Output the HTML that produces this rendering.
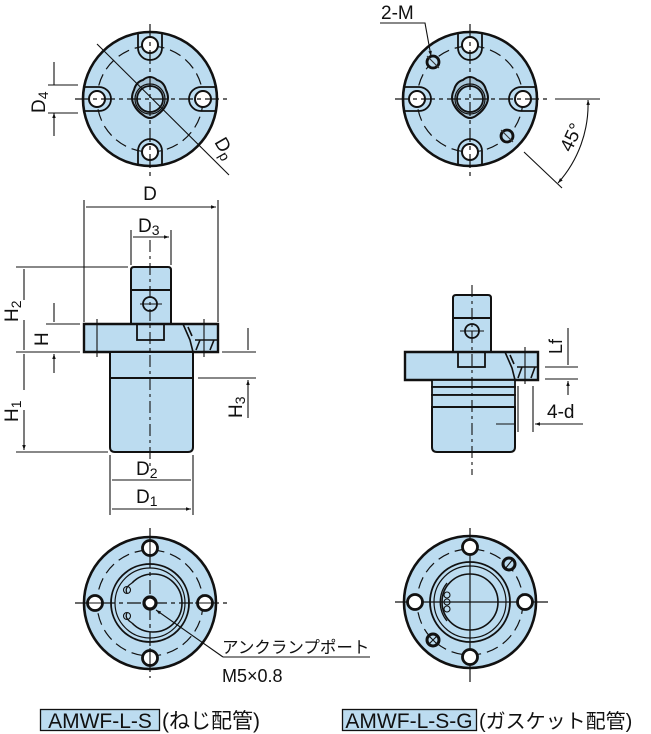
<!DOCTYPE html>
<html><head><meta charset="utf-8"><style>
html,body{margin:0;padding:0;background:#fff;width:651px;height:734px;overflow:hidden}
svg{display:block}
text{font-family:"Liberation Sans","Noto Sans CJK JP",sans-serif;fill:#111}
</style></head><body>
<svg width="651" height="734" viewBox="0 0 651 734" xmlns="http://www.w3.org/2000/svg">
<defs>
<marker id="a" viewBox="0 0 10 10" refX="10" refY="5" markerWidth="8" markerHeight="5" orient="auto-start-reverse" markerUnits="userSpaceOnUse"><path d="M0,1.5 L10,5 L0,8.5z" fill="#111"/></marker>
</defs>
<g stroke="#111" fill="none">
<!-- ===== TOP LEFT ===== -->
<circle cx="150" cy="99" r="67" fill="#bcdcf0" stroke-width="2.6"/>
<circle cx="150" cy="99" r="53" stroke-width="1.2" stroke-dasharray="12,6"/>
<g stroke-width="1.8">
<path d="M138,33 v15 a12,12 0 0 0 24,0 v-15"/>
<path d="M138,166 v-15 a12,12 0 0 1 24,0 v15"/>
<path d="M84,87 h15 a12,12 0 0 1 0,24 h-15"/>
<path d="M216,87 h-15 a12,12 0 0 0 0,24 h15"/>
</g>
<g stroke-width="2" fill="#fff"><circle cx="150" cy="45" r="8"/><circle cx="150" cy="152" r="8"/><circle cx="97" cy="99" r="8"/><circle cx="203" cy="99" r="8"/></g>
<path d="M134,90 q2,-8 9,-10 q7,-6 14,0 q7,2 9,10 q4,8 0,15 q-3,6 -9,10 q-7,6 -14,0 q-6,-4 -9,-10 q-4,-7 0,-15z" fill="#a9c6d8" stroke-width="2"/>
<circle cx="150" cy="99" r="13" stroke-width="1.8" fill="#bcdcf0"/>
<circle cx="150" cy="99" r="15" stroke-width="1.2"/>
<g stroke-width="1.2" stroke-dasharray="14,4,4,4"><path d="M150,24 V176"/><path d="M75,99 H227"/></g>
<path d="M97,44 L229,175" stroke-width="1.1"/>
<path d="M78,85 H48 M78,113 H48" stroke-width="1.1"/>
<path d="M54,62 V85 M54,136 V113" stroke-width="1.1" marker-end="url(#a)"/>
<!-- ===== TOP RIGHT ===== -->
<circle cx="470" cy="99" r="67" fill="#bcdcf0" stroke-width="2.6"/>
<circle cx="470" cy="99" r="53" stroke-width="1.2" stroke-dasharray="12,6"/>
<g stroke-width="1.8">
<path d="M458,33 v15 a12,12 0 0 0 24,0 v-15"/>
<path d="M458,166 v-15 a12,12 0 0 1 24,0 v15"/>
<path d="M404,87 h15 a12,12 0 0 1 0,24 h-15"/>
<path d="M536,87 h-15 a12,12 0 0 0 0,24 h15"/>
</g>
<g stroke-width="2" fill="#fff"><circle cx="470" cy="45" r="8"/><circle cx="470" cy="152" r="8"/><circle cx="417" cy="99" r="8"/><circle cx="523" cy="99" r="8"/></g>
<g stroke-width="2.8" fill="#bcdcf0"><circle cx="433" cy="62" r="6"/><circle cx="507" cy="136" r="6"/></g>
<g stroke-width="1.1" stroke="#333"><path d="M427,56 L439,68 M501,130 L513,142"/></g>
<path d="M454,90 q2,-8 9,-10 q7,-6 14,0 q7,2 9,10 q4,8 0,15 q-3,6 -9,10 q-7,6 -14,0 q-6,-4 -9,-10 q-4,-7 0,-15z" fill="#a9c6d8" stroke-width="2"/>
<circle cx="470" cy="99" r="13" stroke-width="1.8" fill="#bcdcf0"/>
<circle cx="470" cy="99" r="15" stroke-width="1.2"/>
<g stroke-width="1.2" stroke-dasharray="14,4,4,4"><path d="M470,24 V176"/><path d="M395,99 H550"/></g>
<path d="M555,99 H600 M524,152 L562,188" stroke-width="1.1"/>
<path d="M588,100 A118,118 0 0 1 558,183" stroke-width="1.1" marker-start="url(#a)" marker-end="url(#a)"/>
<path d="M380,23 H425 L431,56" stroke-width="1.1" marker-end="url(#a)"/>
<!-- ===== SIDE LEFT ===== -->
<path d="M131,270 q0,-3 3,-3 h34 q3,0 3,3 v20 h-40z" fill="#bcdcf0" stroke-width="2"/>
<rect x="131" y="290" width="40" height="34" fill="#bcdcf0" stroke-width="2"/>
<circle cx="150" cy="304" r="7" stroke-width="1.8"/>
<path d="M140,304 H162" stroke-width="1.1"/>
<path d="M84,324 H218 V352 H84z" fill="#bcdcf0" stroke-width="2.4"/>
<path d="M110,352 H193 V378 H110z" fill="#bcdcf0" stroke-width="2"/>
<path d="M110,378 H193 V447 q0,5 -5,5 H115 q-5,0 -5,-5z" fill="#bcdcf0" stroke-width="2"/>
<rect x="137" y="324" width="27" height="16" stroke-width="1.8"/>
<path d="M183,324 L190,340 L193,352 M195,340 H218 M200,340 L196,350 M214,340 L210,350 M188,327 L192,336" stroke-width="1.6"/>
<path d="M97,319 V357 M204,319 V357" stroke-width="1.1"/>
<path d="M150,240 V470" stroke-width="1.1" stroke-dasharray="12,4,3,4"/>
<!-- dims -->
<path d="M84,200 V322 M218,200 V322" stroke-width="1.1"/>
<path d="M150,207 H86 M150,207 H216" stroke-width="1.1" marker-end="url(#a)"/>
<path d="M131,230 V265 M171,230 V265" stroke-width="1.1"/>
<path d="M151,237 H133 M151,237 H169" stroke-width="1.1" marker-end="url(#a)"/>
<path d="M16,267 H128 M16,352 H80 M16,452 H108 M46,324 H80" stroke-width="1.1"/>
<path d="M24,300 V269 M24,320 V350 M24,390 V354 M24,410 V450" stroke-width="1.1" marker-end="url(#a)"/>
<path d="M54,303 V322 M54,373 V354" stroke-width="1.1" marker-end="url(#a)"/>
<path d="M198,378 H256 M222,352 H256" stroke-width="1.1"/>
<path d="M248,328 V350 M248,418 V380" stroke-width="1.1" marker-end="url(#a)"/>
<path d="M110,455 V515 M193,455 V515" stroke-width="1.1"/>
<path d="M150,480 H112 M150,480 H191 M150,509 H112 M150,509 H191" stroke-width="1.1" marker-end="url(#a)"/>
<!-- ===== SIDE RIGHT ===== -->
<path d="M453,298 q0,-3 3,-3 h32 q3,0 3,3 v20 h-38z" fill="#bcdcf0" stroke-width="2"/>
<rect x="453" y="318" width="38" height="34" fill="#bcdcf0" stroke-width="2"/>
<circle cx="472" cy="331" r="7" stroke-width="1.8"/>
<path d="M460,331 H484" stroke-width="1.1"/>
<path d="M405,352 H538 V380 H405z" fill="#bcdcf0" stroke-width="2.4"/>
<rect x="432" y="380" width="83" height="7" fill="#bcdcf0" stroke-width="1.8"/>
<rect x="432" y="387" width="83" height="8" fill="#bcdcf0" stroke-width="1.8"/>
<rect x="432" y="395" width="83" height="12" fill="#bcdcf0" stroke-width="1.8"/>
<path d="M432,407 H515 V447 q0,5 -5,5 H437 q-5,0 -5,-5z" fill="#bcdcf0" stroke-width="2"/>
<rect x="458" y="352" width="27" height="15" stroke-width="1.8"/>
<path d="M505,352 L512,368 L515,380 M517,367 H538 M522,367 L518,378 M535,367 L531,378 M510,355 L514,364" stroke-width="1.6"/>
<path d="M525,347 V384" stroke-width="1.1"/>
<path d="M472,285 V475" stroke-width="1.1" stroke-dasharray="12,4,3,4"/>
<path d="M545,367 H578 M545,379 H578" stroke-width="1.1"/>
<path d="M568,328 V365 M568,395 V381" stroke-width="1.1" marker-end="url(#a)"/>
<path d="M518,386 V432 M533,386 V432" stroke-width="1.1"/>
<path d="M496,424 H516 M583,424 H535" stroke-width="1.1" marker-end="url(#a)"/>
<!-- ===== BOTTOM LEFT ===== -->
<circle cx="150" cy="603" r="66" fill="#bcdcf0" stroke-width="2.6"/>
<circle cx="150" cy="603" r="53" stroke-width="1.2" stroke-dasharray="12,6"/>
<circle cx="150" cy="603" r="39" stroke-width="1.8"/>
<circle cx="150" cy="603" r="35" stroke-width="1.2"/>
<path d="M132,583 A29,29 0 1 1 132,623" stroke-width="1.6"/>
<path d="M132,583 q-8,5 -5,10 M132,623 q-8,-5 -5,-10" stroke-width="1.3"/>
<circle cx="127" cy="590" r="3.5" stroke-width="1.1"/><circle cx="127" cy="616" r="3.5" stroke-width="1.1"/>
<g stroke-width="1.2" stroke-dasharray="14,4,4,4"><path d="M150,528 V678"/><path d="M75,603 H228"/></g>
<g stroke-width="2.8" fill="#fff"><circle cx="150" cy="548" r="7.5"/><circle cx="150" cy="658" r="7.5"/><circle cx="95" cy="603" r="7.5"/><circle cx="205" cy="603" r="7.5"/></g>
<g stroke-width="1.1"><path d="M150,538 V558 M150,648 V668 M85,603 H105 M195,603 H215"/></g>
<circle cx="150" cy="603" r="6" stroke-width="3.2" fill="#fff"/>
<path d="M223,657 L156,610" stroke-width="1.1" marker-end="url(#a)"/>
<path d="M223,657 H370" stroke-width="1.1"/>
<!-- ===== BOTTOM RIGHT ===== -->
<circle cx="470" cy="602" r="66" fill="#bcdcf0" stroke-width="2.6"/>
<circle cx="470" cy="602" r="53" stroke-width="1.2" stroke-dasharray="12,6"/>
<circle cx="470" cy="602" r="40" stroke-width="1.8"/>
<circle cx="470" cy="602" r="36" stroke-width="1.2"/>
<circle cx="470" cy="602" r="28" stroke-width="1.6"/>
<path d="M447,583 A30,30 0 0 0 447,621" stroke-width="1.3"/>
<g stroke-width="1.1"><circle cx="447" cy="595" r="3"/><circle cx="447" cy="602" r="3"/><circle cx="447" cy="609" r="3"/></g>
<g stroke-width="1.2"><path d="M470,528 V682 M395,602 H548"/></g>
<g stroke-width="2.8" fill="#fff"><circle cx="470" cy="547" r="7.5"/><circle cx="470" cy="657" r="7.5"/><circle cx="415" cy="602" r="7.5"/><circle cx="525" cy="602" r="7.5"/></g>
<g stroke-width="3" fill="#bcdcf0"><circle cx="509" cy="564" r="6"/><circle cx="433" cy="640" r="6"/></g>
<path d="M505,569 L513,559 M429,636 L437,644 M429,644 L437,636" stroke-width="1.1"/>
<!-- label boxes -->
<rect x="40.5" y="709.5" width="119" height="21" fill="#bcdcf0" stroke-width="1.3"/>
<rect x="342.5" y="709.5" width="134" height="21" fill="#bcdcf0" stroke-width="1.3"/>
</g>
<!-- text -->
<text x="150" y="200" font-size="19" text-anchor="middle">D</text>
<text x="138" y="232" font-size="19">D<tspan font-size="14" dy="3">3</tspan></text>
<text x="136" y="475" font-size="19">D<tspan font-size="14" dy="3">2</tspan></text>
<text x="136" y="503" font-size="19">D<tspan font-size="14" dy="3">1</tspan></text>
<text transform="translate(45,113) rotate(-90)" font-size="19">D<tspan font-size="14" dy="3">4</tspan></text>
<text transform="translate(214,142) rotate(60)" font-size="19">D<tspan font-size="14" dy="3">p</tspan></text>
<text transform="translate(18,322) rotate(-90)" font-size="19">H<tspan font-size="14" dy="3">2</tspan></text>
<text transform="translate(48,346) rotate(-90)" font-size="19">H</text>
<text transform="translate(18,422) rotate(-90)" font-size="19">H<tspan font-size="14" dy="3">1</tspan></text>
<text transform="translate(242,418) rotate(-90)" font-size="19">H<tspan font-size="14" dy="3">3</tspan></text>
<text x="381" y="19" font-size="19">2-M</text>
<text transform="translate(571,153) rotate(-65)" font-size="19">45°</text>
<text transform="translate(562,354) rotate(-90)" font-size="18">Lf</text>
<text x="547" y="418" font-size="19">4-d</text>
<text x="222" y="653" font-size="16.5">アンクランプポート</text>
<text x="222" y="682" font-size="18">M5×0.8</text>
<text x="100" y="728" font-size="21" text-anchor="middle">AMWF-L-S</text>
<text x="162" y="728" font-size="21">(ねじ配管)</text>
<text x="409" y="728" font-size="21" text-anchor="middle">AMWF-L-S-G</text>
<text x="479" y="728" font-size="20">(ガスケット配管)</text>
</svg>
</body></html>
